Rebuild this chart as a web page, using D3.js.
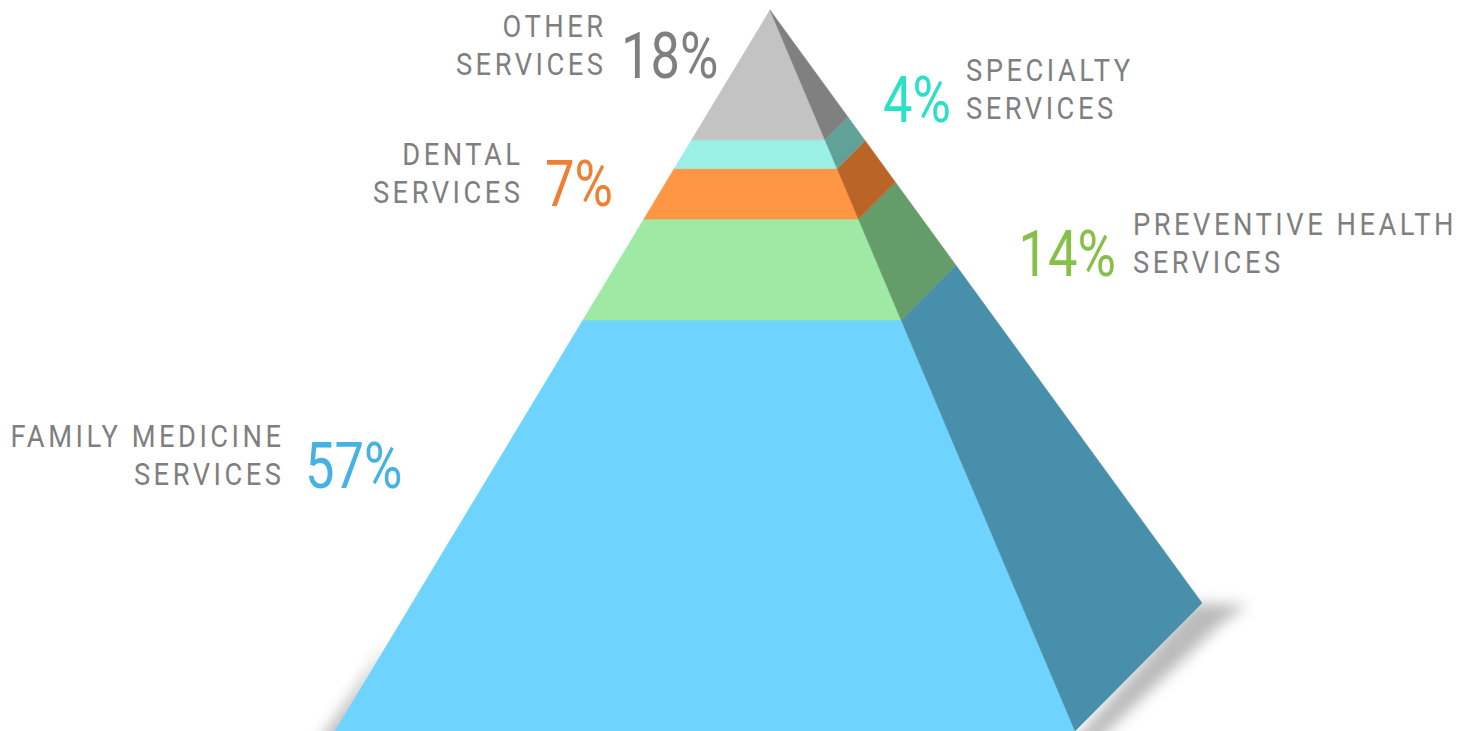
<!DOCTYPE html>
<html>
<head>
<meta charset="utf-8">
<script src="https://cdn.jsdelivr.net/npm/d3@7"></script>
<style>
  html, body { margin: 0; padding: 0; background: #fff; }
  svg { display: block; }
  .lbl { font-family: Roboto, "Noto Sans", sans-serif; font-size: 31px; fill: #7f7f7f; letter-spacing: 4px; }
  .pct { font-family: Roboto, "Noto Sans", sans-serif; font-size: 64px; font-weight: 400; }
</style>
</head>
<body>
<div class="js-chart"></div>
<script>
'use strict';

//pyramid layers, bottom to top
var categories = ['FAMILY MEDICINE|SERVICES', 'PREVENTIVE HEALTH|SERVICES', 'DENTAL|SERVICES', 'SPECIALTY|SERVICES', 'OTHER|SERVICES'];
var values = [57, 14, 7, 4, 18];
var frontColors = ['#6fd4fd', '#9ee9a3', '#fe9644', '#9af0e4', '#c3c3c3'];
var sideColors = ['#478fab', '#659d6a', '#bb6427', '#60a298', '#808080'];
var pctColors = ['#44b3e3', '#86c04a', '#ef7f32', '#2ce0c6', '#7f7f7f'];

//where each label sits: side of the pyramid, anchor x, first baseline
var labelLayout = [
    { side: 'left', x: 281, y: 447, px: 305 },
    { side: 'right', x: 1133, y: 235, px: 1116 },
    { side: 'left', x: 520, y: 165, px: 545 },
    { side: 'right', x: 966, y: 81, px: 951 },
    { side: 'left', x: 603, y: 37, px: 621 }
];

var dim = { w: 1473, h: 731 };

var svg = d3.select('.js-chart').append('svg')
    .attr('width', dim.w)
    .attr('height', dim.h);

//pyramid corners: apex, front-left, front-right, back-right
var apex = [770, 10];
var baseL = [335, 731];
var baseC = [1075, 731];
var baseR = [1202, 603];

var y = d3.scaleLinear().domain([0, 100]).range([baseL[1], apex[1]]);

//point on the edge from apex to p at height yy
function edgePoint(p, yy) {
    var t = (yy - apex[1]) / (p[1] - apex[1]);
    return [apex[0] + t * (p[0] - apex[0]), apex[1] + t * (p[1] - apex[1])];
}

//same cut level, moved from the front edge onto the back edge
function backY(yy) {
    return apex[1] + (yy - apex[1]) * (baseR[1] - apex[1]) / (baseC[1] - apex[1]);
}

//stack values
var layers = [];
var acc = 0;
values.forEach(function (v, i) {
    layers.push({ i: i, y0: y(acc), y1: y(acc + v) });
    acc += v;
});

//soft ground shadow
var defs = svg.append('defs');
defs.append('filter').attr('id', 'blur')
    .attr('x', '-50%').attr('y', '-50%').attr('width', '200%').attr('height', '200%')
    .append('feGaussianBlur').attr('stdDeviation', 7);

var line = d3.line();
var shadow = svg.append('g').attr('filter', 'url(#blur)').style('opacity', 0.4);
shadow.append('path')
    .attr('d', line([edgePoint(baseL, 640), [baseL[0] - 18, 745], [baseL[0] + 5, 745]]) + 'Z')
    .style('fill', '#555');
shadow.append('path')
    .attr('d', line([[baseR[0] - 8, baseR[1]], [baseR[0] + 45, baseR[1] + 2], [baseR[0] + 20, baseR[1] + 20], [baseC[0] + 18, 745], [baseC[0] - 5, 745]]) + 'Z')
    .style('fill', '#555');

//front faces
svg.append('g').selectAll('path')
    .data(layers)
    .enter()
    .append('path')
    .attr('d', function (d) {
        return line([edgePoint(baseL, d.y0), edgePoint(baseC, d.y0), edgePoint(baseC, d.y1), edgePoint(baseL, d.y1)]) + 'Z';
    })
    .style('fill', function (d) { return frontColors[d.i]; })
    .style('stroke', function (d) { return frontColors[d.i]; })
    .style('stroke-width', 0.5);

//side faces
svg.append('g').selectAll('path')
    .data(layers)
    .enter()
    .append('path')
    .attr('d', function (d) {
        return line([edgePoint(baseC, d.y0), edgePoint(baseR, backY(d.y0)),
            edgePoint(baseR, backY(d.y1)), edgePoint(baseC, d.y1)]) + 'Z';
    })
    .style('fill', function (d) { return sideColors[d.i]; })
    .style('stroke', function (d) { return sideColors[d.i]; })
    .style('stroke-width', 0.5);

//labels
var labels = svg.append('g');
categories.forEach(function (name, i) {
    var lay = labelLayout[i];
    var left = lay.side === 'left';
    var lines = name.split('|');
    var g = labels.append('text')
        .attr('class', 'lbl')
        .attr('text-anchor', left ? 'end' : 'start')
        .attr('transform', 'translate(' + lay.x + ',' + lay.y + ') scale(0.88,1)');
    lines.forEach(function (ln, k) {
        g.append('tspan')
            .attr('x', 0)
            .attr('dx', left ? 4 : 0)
            .attr('y', k * 38)
            .text(ln);
    });
    labels.append('text')
        .attr('class', 'pct')
        .attr('text-anchor', left ? 'start' : 'end')
        .attr('transform', 'translate(' + lay.px + ',' + (lay.y + 41) + ') scale(0.82,1)')
        .style('fill', pctColors[i])
        .text(values[i] + '%');
});
</script>
</body>
</html>
